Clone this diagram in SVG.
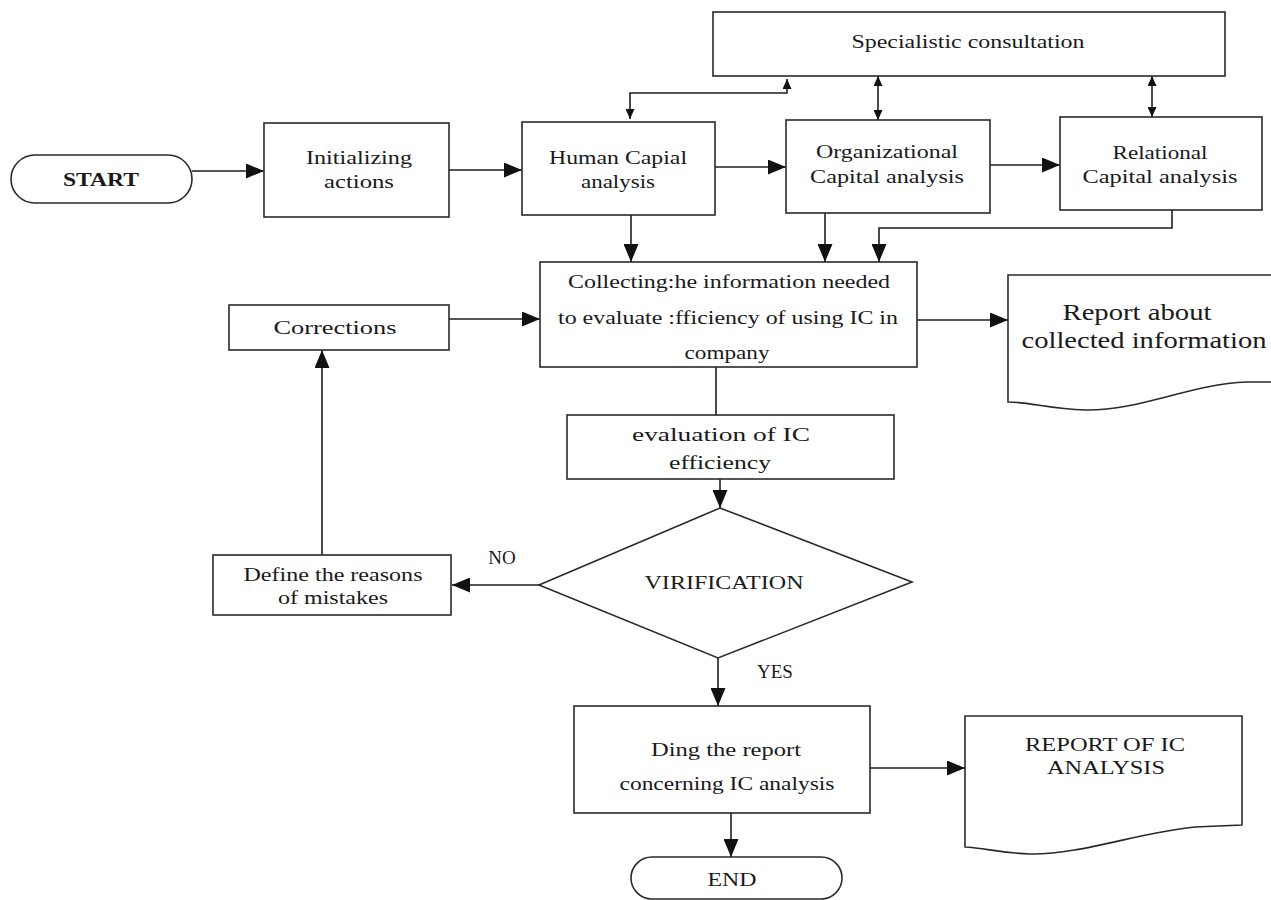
<svg xmlns="http://www.w3.org/2000/svg" width="1271" height="900" viewBox="0 0 1271 900">
<style>
.bx{fill:#fff;stroke:#2a2a2a;stroke-width:1.6}
.ln{fill:none;stroke:#1e1e1e;stroke-width:1.6}
.t{font-family:"Liberation Serif","Times New Roman",serif;font-size:19px;fill:#1a1a1a;text-anchor:middle}
.tb{font-weight:bold}
.tl{font-size:24px}
</style>
<defs>
<marker id="ah" markerUnits="userSpaceOnUse" markerWidth="18" markerHeight="15" refX="18" refY="7.5" orient="auto-start-reverse">
<path d="M0,0 L18,7.5 L0,15 z" fill="#111"/>
</marker>
<marker id="as" markerUnits="userSpaceOnUse" markerWidth="10" markerHeight="9" refX="10" refY="4.5" orient="auto-start-reverse">
<path d="M0,0 L10,4.5 L0,9 z" fill="#111"/>
</marker>
</defs>
<rect width="1271" height="900" fill="#fff"/>

<g id="connectors">
<path class="ln" d="M192,171 H264" marker-end="url(#ah)"/>
<path class="ln" d="M449,170 H522" marker-end="url(#ah)"/>
<path class="ln" d="M715,167 H786" marker-end="url(#ah)"/>
<path class="ln" d="M990,165 H1060" marker-end="url(#ah)"/>
<path class="ln" d="M787,79 V93 H630 V119" marker-start="url(#as)" marker-end="url(#as)"/>
<path class="ln" d="M878,76 V120" marker-start="url(#as)" marker-end="url(#as)"/>
<path class="ln" d="M1152,76 V117" marker-start="url(#as)" marker-end="url(#as)"/>
<path class="ln" d="M631,215 V262" marker-end="url(#ah)"/>
<path class="ln" d="M825,213 V262" marker-end="url(#ah)"/>
<path class="ln" d="M1172,210 V228 H879 V262" marker-end="url(#ah)"/>
<path class="ln" d="M449,319 H540" marker-end="url(#ah)"/>
<path class="ln" d="M917,320 H1008" marker-end="url(#ah)"/>
<path class="ln" d="M716,367 V415"/>
<path class="ln" d="M720,479 V508" marker-end="url(#ah)"/>
<path class="ln" d="M539,585 H452" marker-end="url(#ah)"/>
<path class="ln" d="M322,555 V350" marker-end="url(#ah)"/>
<path class="ln" d="M718,658 V706" marker-end="url(#ah)"/>
<path class="ln" d="M870,768 H965" marker-end="url(#ah)"/>
<path class="ln" d="M731,813 V857" marker-end="url(#ah)"/>
<text class="t" x="502" y="564">NO</text>
<text class="t" x="775" y="678">YES</text>
</g>

<g id="start">
<rect class="bx" x="11" y="155" width="181" height="48" rx="24"/>
<text class="t tb" x="101" y="186" textLength="76" lengthAdjust="spacingAndGlyphs">START</text>
</g>

<g id="initializing">
<rect class="bx" x="264" y="123" width="185" height="94"/>
<text class="t" x="359" y="164" textLength="106" lengthAdjust="spacingAndGlyphs">Initializing</text>
<text class="t" x="359" y="188" textLength="70" lengthAdjust="spacingAndGlyphs">actions</text>
</g>

<g id="human">
<rect class="bx" x="522" y="122" width="193" height="93"/>
<text class="t" x="618" y="164" textLength="138" lengthAdjust="spacingAndGlyphs">Human Capial</text>
<text class="t" x="618" y="188" textLength="74" lengthAdjust="spacingAndGlyphs">analysis</text>
</g>

<g id="organizational">
<rect class="bx" x="786" y="120" width="204" height="93"/>
<text class="t" x="887" y="158" textLength="142" lengthAdjust="spacingAndGlyphs">Organizational</text>
<text class="t" x="887" y="183" textLength="154" lengthAdjust="spacingAndGlyphs">Capital analysis</text>
</g>

<g id="relational">
<rect class="bx" x="1060" y="117" width="202" height="93"/>
<text class="t" x="1160" y="159" textLength="95" lengthAdjust="spacingAndGlyphs">Relational</text>
<text class="t" x="1160" y="183" textLength="155" lengthAdjust="spacingAndGlyphs">Capital analysis</text>
</g>

<g id="specialistic">
<rect class="bx" x="713" y="12" width="512" height="64"/>
<text class="t" x="968" y="48" textLength="233" lengthAdjust="spacingAndGlyphs">Specialistic consultation</text>
</g>

<g id="collecting">
<rect class="bx" x="540" y="262" width="377" height="105"/>
<text class="t" x="729" y="288" textLength="322" lengthAdjust="spacingAndGlyphs">Collecting:he information needed</text>
<text class="t" x="728" y="324" textLength="340" lengthAdjust="spacingAndGlyphs">to evaluate :fficiency of using IC in</text>
<text class="t" x="727" y="359" textLength="85" lengthAdjust="spacingAndGlyphs">company</text>
</g>

<g id="corrections">
<rect class="bx" x="229" y="305" width="220" height="45"/>
<text class="t" x="335" y="334" textLength="123" lengthAdjust="spacingAndGlyphs">Corrections</text>
</g>

<g id="report-collected">
<path class="bx" d="M1008,275 L1285,275 L1285,382 L1247,382 C1190,384 1140,411 1085,410 C1050,409 1030,402 1008,402 Z"/>
<text class="t tl" x="1137" y="320" textLength="149" lengthAdjust="spacingAndGlyphs">Report about</text>
<text class="t tl" x="1144" y="348" textLength="245" lengthAdjust="spacingAndGlyphs">collected information</text>
</g>

<g id="evaluation">
<rect class="bx" x="567" y="415" width="327" height="64"/>
<text class="t" x="721" y="441" textLength="178" lengthAdjust="spacingAndGlyphs">evaluation of  IC</text>
<text class="t" x="720" y="469" textLength="102" lengthAdjust="spacingAndGlyphs">efficiency</text>
</g>

<g id="verification">
<polygon class="bx" points="720,508 912,582 718,658 539,585"/>
<text class="t" x="724" y="589" textLength="159" lengthAdjust="spacingAndGlyphs">VIRIFICATION</text>
</g>

<g id="define">
<rect class="bx" x="213" y="555" width="238" height="60"/>
<text class="t" x="333" y="581" textLength="179" lengthAdjust="spacingAndGlyphs">Define the reasons</text>
<text class="t" x="333" y="604" textLength="110" lengthAdjust="spacingAndGlyphs">of mistakes</text>
</g>

<g id="doing">
<rect class="bx" x="574" y="706" width="296" height="107"/>
<text class="t" x="726" y="756" textLength="150" lengthAdjust="spacingAndGlyphs">Ding the report</text>
<text class="t" x="727" y="790" textLength="215" lengthAdjust="spacingAndGlyphs">concerning IC analysis</text>
</g>

<g id="report-ic">
<path class="bx" d="M965,716 L1242,716 L1242,825 L1195,827 C1140,832 1080,855 1030,854 C1000,853 985,848 965,847 Z"/>
<text class="t" x="1105" y="751" textLength="160" lengthAdjust="spacingAndGlyphs">REPORT OF IC</text>
<text class="t" x="1106" y="774" textLength="118" lengthAdjust="spacingAndGlyphs">ANALYSIS</text>
</g>

<g id="end">
<rect class="bx" x="631" y="857" width="211" height="42" rx="21"/>
<text class="t" x="732" y="886" textLength="49" lengthAdjust="spacingAndGlyphs">END</text>
</g>
</svg>
